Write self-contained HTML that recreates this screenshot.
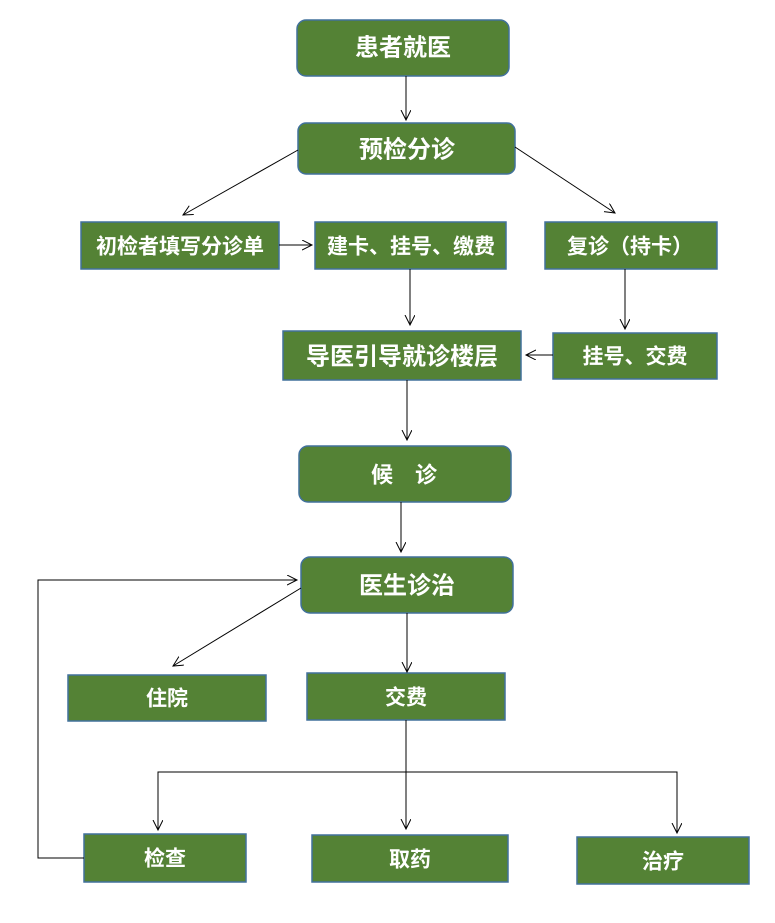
<!DOCTYPE html>
<html><head><meta charset="utf-8"><style>
body{margin:0;background:#fff}
svg text{font-family:"Liberation Sans","Noto Sans CJK SC",sans-serif;font-weight:bold;fill:#fff;text-anchor:middle;dominant-baseline:central}
</style></head><body>
<svg width="775" height="918" viewBox="0 0 775 918" xmlns="http://www.w3.org/2000/svg">
<defs><marker id="a" markerWidth="12" markerHeight="12" refX="10" refY="5" orient="auto" markerUnits="userSpaceOnUse"><path d="M0,0 L10,5 L0,10" fill="none" stroke="#000" stroke-width="1"/></marker></defs>
<g fill="#548235" stroke="#41719c" stroke-width="1.5">
<rect x="297" y="20" width="212" height="56" rx="9"/>
<rect x="298" y="123" width="217" height="51" rx="8"/>
<rect x="81" y="222" width="198" height="47"/>
<rect x="315" y="222" width="191" height="47"/>
<rect x="545" y="222" width="172" height="47"/>
<rect x="283" y="331" width="238" height="49"/>
<rect x="553" y="333" width="164" height="46"/>
<rect x="299" y="446" width="212" height="56" rx="9"/>
<rect x="301" y="557" width="212" height="56" rx="9"/>
<rect x="68" y="675" width="198" height="46"/>
<rect x="307" y="673" width="198" height="47"/>
<rect x="84" y="834" width="162" height="48"/>
<rect x="312" y="835" width="196" height="47"/>
<rect x="577" y="837" width="172" height="47"/>
</g>
<text x="403" y="48" font-size="24">患者就医</text>
<text x="407" y="150" font-size="24">预检分诊</text>
<text x="180" y="247" font-size="21">初检者填写分诊单</text>
<text x="411" y="247" font-size="21">建卡、挂号、缴费</text>
<text x="630" y="247" font-size="21">复诊（持卡）</text>
<text x="402" y="357" font-size="24">导医引导就诊楼层</text>
<text x="635" y="357" font-size="21">挂号、交费</text>
<text x="404" y="475" font-size="22">候　诊</text>
<text x="407" y="586" font-size="24">医生诊治</text>
<text x="167" y="699" font-size="21">住院</text>
<text x="406" y="698" font-size="21">交费</text>
<text x="165" y="859" font-size="21">检查</text>
<text x="410" y="860" font-size="21">取药</text>
<text x="663" y="862" font-size="21">治疗</text>
<g stroke="#000" stroke-width="1" fill="none">
<line x1="406" y1="76" x2="406" y2="120" marker-end="url(#a)"/>
<line x1="298" y1="150" x2="183" y2="215" marker-end="url(#a)"/>
<line x1="515" y1="147" x2="615" y2="213" marker-end="url(#a)"/>
<line x1="279" y1="245" x2="312" y2="245" marker-end="url(#a)"/>
<line x1="410" y1="269" x2="410" y2="325" marker-end="url(#a)"/>
<line x1="625" y1="269" x2="625" y2="329" marker-end="url(#a)"/>
<line x1="553" y1="355" x2="526" y2="355" marker-end="url(#a)"/>
<line x1="407" y1="380" x2="407" y2="440" marker-end="url(#a)"/>
<line x1="401" y1="502" x2="401" y2="552" marker-end="url(#a)"/>
<line x1="301" y1="588" x2="173" y2="666" marker-end="url(#a)"/>
<line x1="407" y1="613" x2="407" y2="672" marker-end="url(#a)"/>
<line x1="406" y1="720" x2="406" y2="829" marker-end="url(#a)"/>
<polyline points="158,830 158,772 677,772 677,833" />
<line x1="158" y1="800" x2="158" y2="830" marker-end="url(#a)"/>
<line x1="677" y1="800" x2="677" y2="833" marker-end="url(#a)"/>
<polyline points="84,858 38,858 38,580 297,580" marker-end="url(#a)"/>
</g>
</svg>
</body></html>
